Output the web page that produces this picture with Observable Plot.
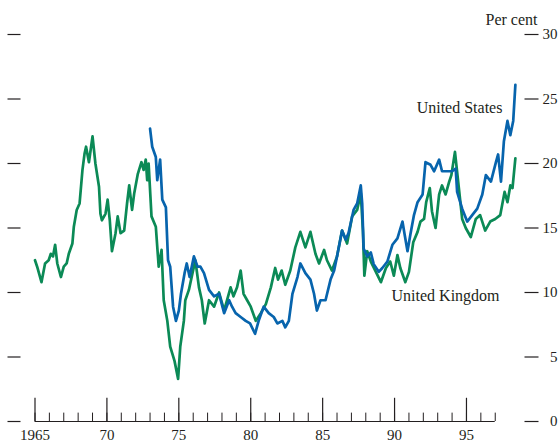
<!DOCTYPE html>
<html><head><meta charset="utf-8">
<script src="https://cdn.jsdelivr.net/npm/d3@7"></script>
<script src="https://cdn.jsdelivr.net/npm/@observablehq/plot@0.6"></script>
<style>body{margin:0;background:#fff}</style>
</head><body><div id="chart"></div>
<script>
const ukYears = [1965.0,1965.15,1965.45,1965.7,1965.95,1966.1,1966.25,1966.4,1966.55,1966.8,1967.0,1967.2,1967.35,1967.6,1967.7,1967.9,1968.1,1968.3,1968.45,1968.55,1968.75,1969.0,1969.2,1969.45,1969.55,1969.65,1969.9,1970.05,1970.2,1970.35,1970.6,1970.75,1970.95,1971.2,1971.4,1971.55,1971.75,1971.9,1972.15,1972.4,1972.55,1972.7,1972.8,1972.9,1973.1,1973.4,1973.6,1973.8,1973.95,1974.2,1974.4,1974.7,1974.95,1975.1,1975.35,1975.45,1975.7,1975.95,1976.15,1976.4,1976.6,1976.8,1977.1,1977.45,1977.8,1978.15,1978.6,1978.8,1979.05,1979.3,1979.5,1979.75,1980.0,1980.35,1980.7,1981.05,1981.4,1981.7,1981.9,1982.15,1982.4,1982.75,1983.1,1983.45,1983.8,1984.15,1984.5,1984.75,1985.1,1985.3,1985.65,1986.0,1986.35,1986.7,1987.05,1987.4,1987.65,1987.8,1987.9,1988.1,1988.35,1988.7,1989.05,1989.4,1989.7,1989.95,1990.2,1990.4,1990.75,1991.0,1991.3,1991.6,1991.8,1992.05,1992.2,1992.45,1992.6,1992.85,1993.1,1993.3,1993.55,1993.8,1993.95,1994.2,1994.5,1994.7,1994.95,1995.3,1995.65,1995.95,1996.3,1996.65,1997.0,1997.35,1997.65,1997.85,1998.05,1998.2,1998.4];
const ukValues = [12.5,12.0,10.8,12.25,12.5,13.0,12.8,13.7,12.25,11.2,12.0,12.25,13.0,13.8,15.1,16.4,16.9,19.5,20.8,21.3,20.1,22.1,20.0,18.2,16.1,15.6,16.1,17.2,15.6,13.2,14.6,15.9,14.6,14.8,16.9,18.3,16.4,17.7,19.2,20.1,19.5,20.3,18.7,20.0,15.9,15.1,12.0,13.3,9.4,7.8,5.8,4.7,3.3,5.8,7.8,9.4,10.2,11.5,12.5,10.4,9.4,7.6,9.4,8.9,10.0,8.6,10.4,9.7,10.4,11.7,9.9,9.4,8.9,7.8,8.4,9.1,10.4,11.9,11.0,11.7,10.6,11.7,13.5,14.7,13.5,14.7,13.0,12.25,13.3,12.5,11.7,12.8,14.8,13.8,15.9,16.4,17.7,14.8,11.3,13.2,12.4,11.6,10.8,11.9,12.4,11.3,12.9,11.9,10.8,11.6,13.9,14.7,15.5,15.7,17.0,18.1,16.3,15.0,17.6,18.3,17.6,18.6,19.1,20.9,17.8,15.7,15.0,14.3,15.7,16.0,14.8,15.5,15.7,16.0,17.8,17.0,18.3,18.1,20.4];
const usYears = [1973.0,1973.15,1973.4,1973.5,1973.7,1973.85,1974.1,1974.25,1974.4,1974.6,1974.8,1975.0,1975.15,1975.4,1975.55,1975.75,1976.05,1976.3,1976.5,1976.75,1977.1,1977.45,1977.8,1978.15,1978.5,1978.7,1978.95,1979.3,1979.65,1979.95,1980.3,1980.55,1980.9,1981.25,1981.6,1981.85,1982.2,1982.4,1982.65,1982.9,1983.25,1983.45,1983.8,1984.15,1984.4,1984.6,1984.85,1985.2,1985.55,1985.8,1986.0,1986.35,1986.6,1986.8,1987.15,1987.4,1987.65,1987.75,1987.85,1988.1,1988.35,1988.55,1988.9,1989.15,1989.5,1989.85,1990.2,1990.55,1990.7,1990.9,1991.1,1991.35,1991.6,1991.95,1992.15,1992.5,1992.75,1993.1,1993.3,1993.65,1994.0,1994.25,1994.35,1994.7,1995.05,1995.4,1995.75,1996.1,1996.35,1996.7,1997.05,1997.2,1997.4,1997.6,1997.85,1998.05,1998.25,1998.4];
const usValues = [22.7,21.3,20.5,18.7,20.3,17.2,16.6,12.5,12.0,8.9,7.8,8.6,9.9,11.5,12.25,11.2,12.8,12.0,12.0,11.5,10.2,9.7,9.9,8.4,9.4,8.9,8.4,8.1,7.8,7.6,6.8,7.8,8.9,8.4,8.1,7.6,7.8,7.3,7.8,9.9,11.2,12.25,11.5,11.0,9.9,8.6,9.4,9.4,11.0,11.7,12.8,14.8,14.1,14.6,16.4,16.9,18.3,16.9,13.4,12.8,13.1,12.2,11.6,11.9,12.4,13.7,14.2,15.5,14.5,13.2,14.5,16.0,17.0,17.6,20.1,19.9,19.4,20.3,19.4,19.4,19.4,19.6,17.8,16.5,15.5,16.0,16.5,17.6,19.1,18.6,20.1,20.7,18.6,21.7,23.3,22.2,23.3,26.1];
const yTicks = [0,5,10,15,20,25,30];
const xMajor = [1965,1970,1975,1980,1985,1990,1995];
const xMajorLabels = ["1965","70","75","80","85","90","95"];
const xMinor = [1965,1966,1967,1968,1969,1970,1971,1972,1973,1974,1975,1976,1977,1978,1979,1980,1981,1982,1983,1984,1985,1986,1987,1988,1989,1990,1991,1992,1993,1994,1995,1996,1997];
const seriesNames = ["United Kingdom","United States"];

const uk = ukYears.map((y,i)=>({year:y, value:ukValues[i]}));
const us = usYears.map((y,i)=>({year:y, value:usValues[i]}));
const green = "#0b8a56", blue = "#0764ad", ink = "#231f20";

const chart = Plot.plot({
  width: 558, height: 443,
  marginLeft: 34.5, marginRight: 34.5, marginTop: 34, marginBottom: 22,
  x: {domain: [1965, 1999], axis: null},
  y: {domain: [0, 30], axis: null},
  style: {fontFamily: "'Liberation Serif', 'DejaVu Serif', serif", fontSize: "15px", background: "#fff", color: ink, overflow: "visible"},
  marks: [
    Plot.axisY(yTicks, {anchor: "left", label: null, tickSize: 13, dx: -14, tickFormat: () => "", stroke: ink, strokeWidth: 1.2}),
    Plot.axisY(yTicks, {anchor: "right", label: null, tickSize: 14, tickFormat: () => "", stroke: ink, strokeWidth: 1.2}),
    Plot.text(yTicks, {y: d => d, frameAnchor: "right", dx: 33.5, textAnchor: "end", text: d => String(d), fontSize: 15, fill: ink}),
    Plot.ruleY([0], {x1: 1965, x2: 1997, stroke: ink, strokeWidth: 1.2}),
    Plot.ruleX(xMinor, {x: d => d, y1: 0, y2: 0.65, stroke: ink, strokeWidth: 1}),
    Plot.ruleX(xMajor, {x: d => d, y1: 0, y2: 1.8, stroke: ink, strokeWidth: 1.2}),
    Plot.text(xMajor, {x: d => d, y: 0, text: (d, i) => xMajorLabels[i], dy: 14, fontSize: 15, fill: ink}),
    Plot.line(uk, {x: "year", y: "value", stroke: green, strokeWidth: 2.7, strokeLinejoin: "round"}),
    Plot.line(us, {x: "year", y: "value", stroke: blue, strokeWidth: 2.7, strokeLinejoin: "round"}),
    Plot.text([seriesNames[1]], {x: 1997.5, y: 24.3, text: d => d, textAnchor: "end", fontSize: 16, fill: ink}),
    Plot.text([seriesNames[0]], {x: 1997.3, y: 9.7, text: d => d, textAnchor: "end", fontSize: 16, fill: ink}),
    Plot.text(["Per cent"], {frameAnchor: "top-right", dx: 13.5, dy: -21, text: d => d, textAnchor: "end", fontSize: 16, fill: ink})
  ]
});
document.getElementById("chart").appendChild(chart);
</script>
</body></html>
